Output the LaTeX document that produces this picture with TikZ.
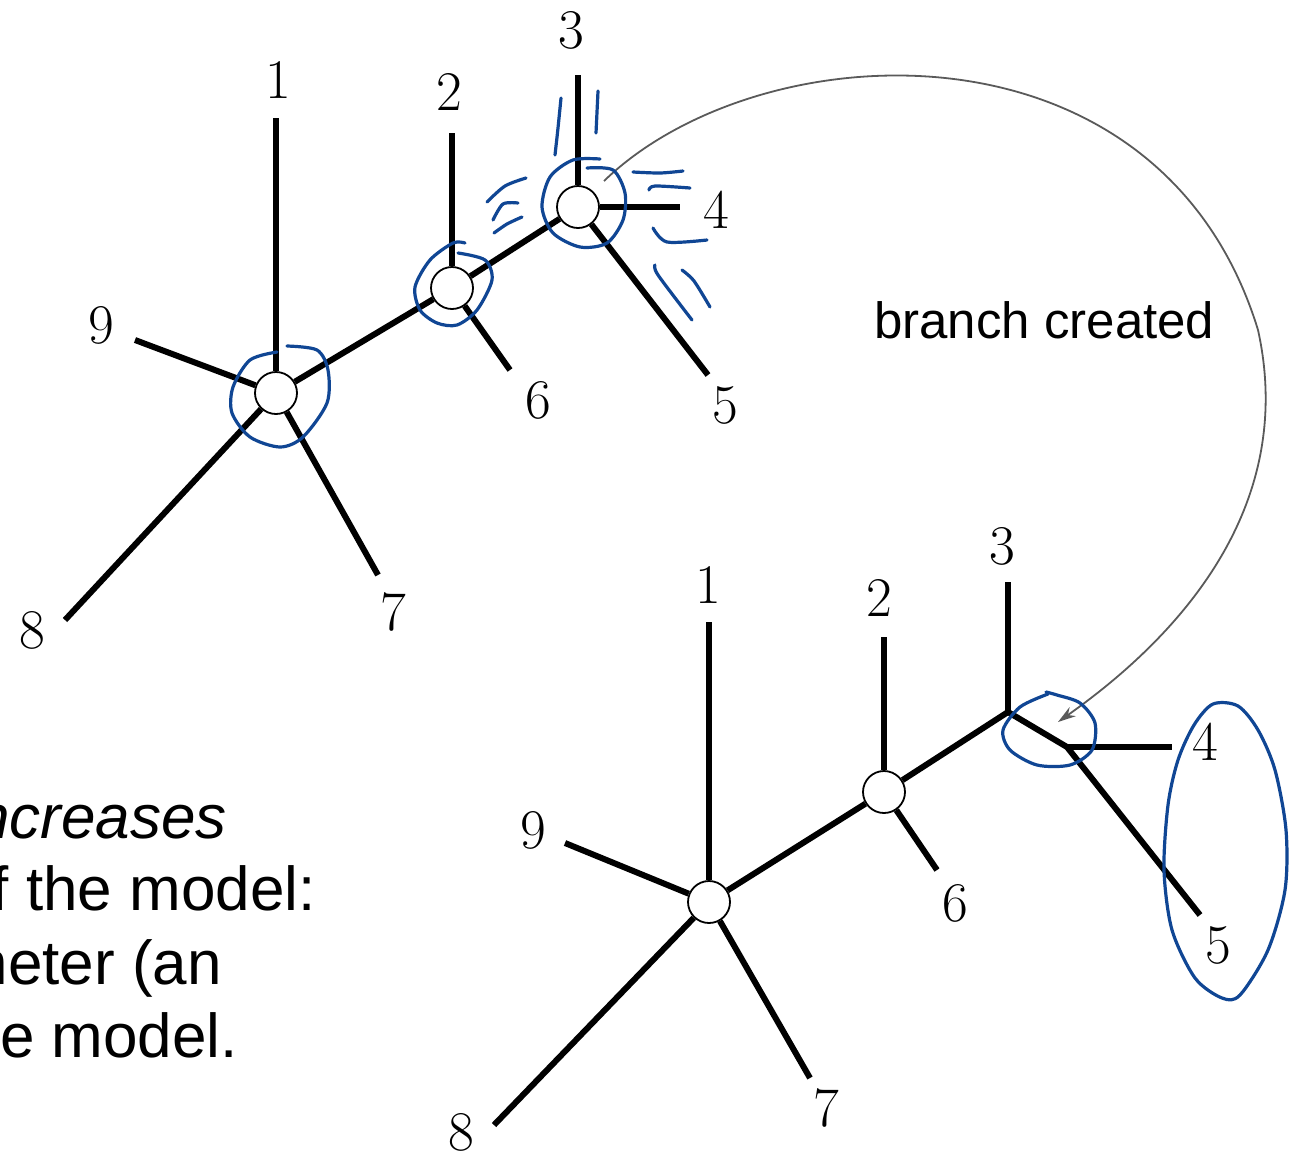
\documentclass[tikz,border=0pt]{standalone}
\usepackage{fontspec}
\newfontfamily\helv{Liberation Sans}
\usetikzlibrary{arrows.meta}
\definecolor{inkblue}{RGB}{16,70,148}
\definecolor{arcgray}{RGB}{90,90,90}
\begin{document}
\begin{tikzpicture}[x=1pt,y=-1pt,
  hub/.style={circle,draw=black,line width=1.8pt,fill=white,minimum size=42pt,inner sep=0pt},
  edge/.style={line width=6pt,line join=miter},
  num/.style={font=\fontsize{56}{62}\selectfont,inner sep=0pt},
  caption/.style={font=\helv\fontsize{62}{70}\selectfont,inner sep=0pt,anchor=base east},
  ink/.style={draw=inkblue,line width=3.2pt,line cap=round,line join=round},
  arcline/.style={draw=arcgray,line width=1.8pt}]
\useasboundingbox (0,0) rectangle (1289,1152);
\fill[white] (0,0) rectangle (1289,1152);

% ---------- upper tree ----------
\node[hub] (A) at (276,393) {};
\node[hub] (B) at (452,288) {};
\node[hub] (C) at (578,207) {};
\coordinate (a1) at (276,118);
\coordinate (a9) at (135,340);
\coordinate (a8) at (65,620);
\coordinate (a7) at (378,575);
\coordinate (a2) at (452,133);
\coordinate (a6) at (510,370);
\coordinate (a3) at (578,75);
\coordinate (a4) at (680,207);
\coordinate (a5) at (708,375);
\draw[edge] (A) -- (a1);
\draw[edge] (A) -- (a9);
\draw[edge] (A) -- (a8);
\draw[edge] (A) -- (a7);
\draw[edge] (A) -- (B);
\draw[edge] (B) -- (a2);
\draw[edge] (B) -- (a6);
\draw[edge] (B) -- (C);
\draw[edge] (C) -- (a3);
\draw[edge] (C) -- (a4);
\draw[edge] (C) -- (a5);
\node[num] (t1) at (278,80) {1};
\node[num] (t2) at (449,92) {2};
\node[num] (t3) at (571,30) {3};
\node[num] (t4) at (716,210) {4};
\node[num] (t5) at (725,405) {5};
\node[num] (t6) at (538,400) {6};
\node[num] (t7) at (393,612) {7};
\node[num] (t8) at (32,630) {8};
\node[num] (t9) at (101,325) {9};

% ---------- lower tree ----------
\node[hub] (D) at (709,902) {};
\node[hub] (E) at (884,792) {};
\coordinate (F) at (1008,712);
\coordinate (G) at (1067,747);
\coordinate (b1) at (709,622);
\coordinate (b9) at (565,843);
\coordinate (b8) at (494,1125);
\coordinate (b7) at (810,1078);
\coordinate (b2) at (884,637);
\coordinate (b6) at (937,870);
\coordinate (b3) at (1008,582);
\coordinate (b4) at (1172,747);
\coordinate (b5) at (1200,915);
\draw[edge] (D) -- (b1);
\draw[edge] (D) -- (b9);
\draw[edge] (D) -- (b8);
\draw[edge] (D) -- (b7);
\draw[edge] (D) -- (E);
\draw[edge] (E) -- (b2);
\draw[edge] (E) -- (b6);
\draw[edge] (E) -- (F) -- (G) -- (b5);
\draw[edge] (F) -- (b3);
\draw[edge] (G) -- (b4);
\node[num] (u1) at (708,585) {1};
\node[num] (u2) at (879,598) {2};
\node[num] (u3) at (1002,546) {3};
\node[num] (u4) at (1205,742) {4};
\node[num] (u5) at (1218,945) {5};
\node[num] (u6) at (955,903) {6};
\node[num] (u7) at (826,1108) {7};
\node[num] (u8) at (461,1132) {8};
\node[num] (u9) at (533,830) {9};

% ---------- branch arrow ----------
\coordinate (arcstart) at (604,181);
\coordinate (arcend) at (1058,722);
\draw[arcline,-{Stealth[length=18pt,width=11pt]}] (arcstart)
  .. controls (760,30) and (1160,10) .. (1258,330)
  .. controls (1300,520) and (1160,650) .. (arcend);
\node[font=\helv\fontsize{51}{60}\selectfont,inner sep=0pt,anchor=base west] (lbl) at (874,338) {branch created};

% ---------- side text ----------
\node[caption] (c1) at (227,838) {\itshape ncreases};
\node[caption] (c2) at (316,910) {f the model:};
\node[caption] (c3) at (222,984) {neter (an};
\node[caption] (c4) at (238,1057) {e model.};

% ---------- pen marks ----------
\draw[ink] plot[smooth] coordinates {(277,352) (250,360) (233,387) (232,413) (250,437) (280,447) (303,437) (327,403) (328,370) (317,350) (287,346)};
\draw[ink] plot[smooth] coordinates {(465,243) (453,243) (430,260) (415,287) (420,310) (437,323) (457,325) (477,310) (492,280) (485,260) (458,253)};
\draw[ink] plot[smooth] coordinates {(600,159) (573,160) (550,177) (542,207) (553,233) (580,247) (607,243) (623,220) (625,193) (613,170) (587,168)};
\draw[ink] plot[smooth] coordinates {(561,98) (558,128) (555,155)};
\draw[ink] plot[smooth] coordinates {(598,91) (597,112) (596,133)};
\draw[ink] plot[smooth] coordinates {(526,178) (505,186) (487,202)};
\draw[ink] plot[smooth] coordinates {(518,203) (503,204) (493,220)};
\draw[ink] plot[smooth] coordinates {(522,217) (507,224) (494,233)};
\draw[ink] plot[smooth] coordinates {(633,172) (660,173) (683,171)};
\draw[ink] plot[smooth] coordinates {(649,190) (655,186) (690,188)};
\draw[ink] plot[smooth] coordinates {(653,228) (667,242) (707,240)};
\draw[ink] plot[smooth] coordinates {(655,265) (658,275) (692,320)};
\draw[ink] plot[smooth] coordinates {(682,270) (694,281) (710,307)};
\draw[ink] plot[smooth] coordinates {(1048,694) (1020,707) (1003,730) (1010,750) (1037,765) (1070,765) (1092,750) (1095,723) (1080,703) (1057,695) (1046,692)};
\draw[ink] plot[smooth cycle] coordinates {(1213,704) (1238,706) (1258,730) (1275,770) (1286,830) (1285,890) (1268,950) (1240,995) (1222,998) (1195,978) (1172,930) (1164,870) (1168,805) (1178,760) (1194,725)};
\end{tikzpicture}
\end{document}
